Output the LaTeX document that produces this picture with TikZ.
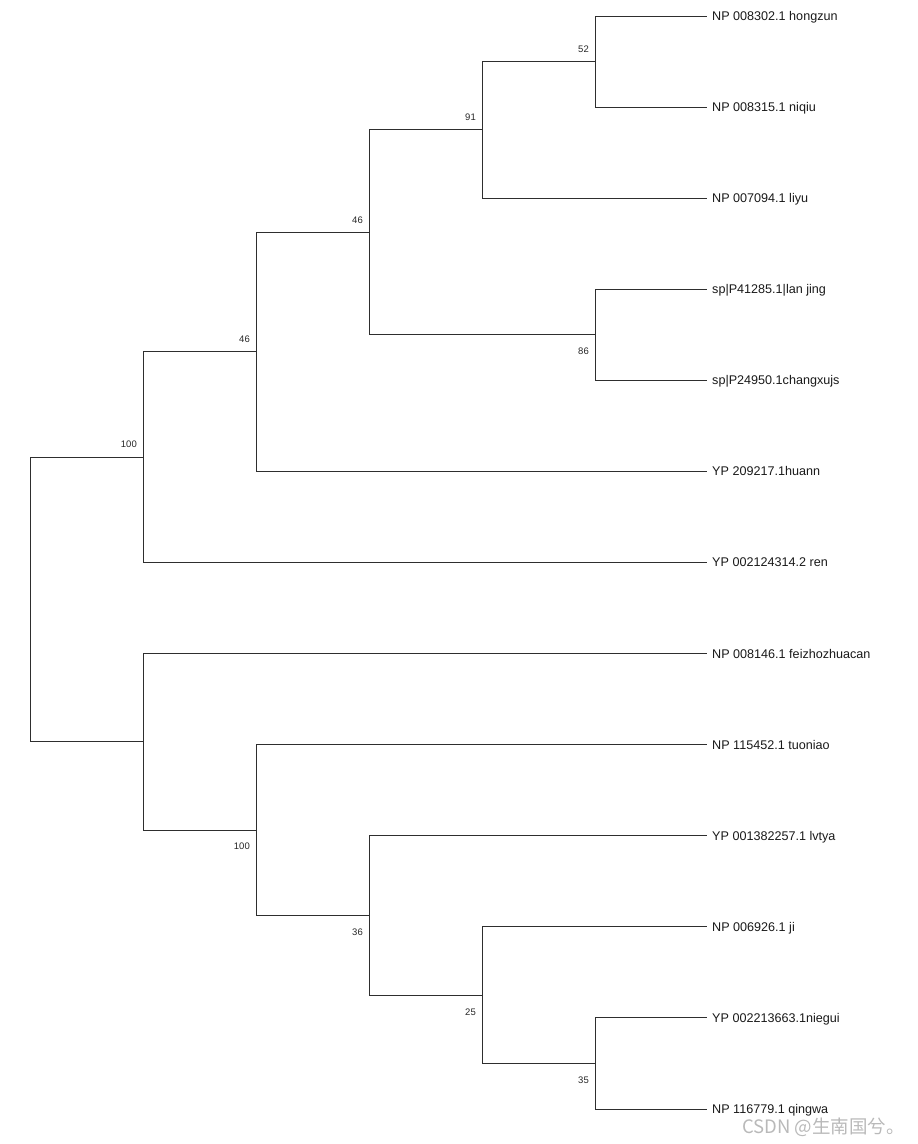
\documentclass[tikz,border=0pt]{standalone}
\usepackage{fontspec}
\setmainfont{Liberation Sans}
\newfontfamily\cjkfont{Noto Sans CJK SC}
\usetikzlibrary{calc}

\begin{document}
\begin{tikzpicture}[
    x=1pt, y=-1pt,
    branch/.style  = {line width=1pt, draw=black!82},
    leaf/.style    = {anchor=west, inner xsep=5pt, inner ysep=0pt,
                      text height=8.9pt, text depth=0pt,
                      font=\fontsize{12.6}{14}\selectfont, text=black!90},
    supup/.style   = {anchor=east, inner sep=0pt,
                      text height=6.8pt, text depth=0pt,
                      font=\fontsize{9.5}{11}\selectfont, text=black!85,
                      xshift=-6pt, yshift=12.7pt},
    supdown/.style = {supup, yshift=-29.2pt},
]

\useasboundingbox (0,0) rectangle (918,1144);

%% ---- Layout coordinates ----
\def\xRoot{30}
\def\xB{143}
\def\xC{256}
\def\xD{369}
\def\xE{482}
\def\xF{595}
\def\xTip{707}

\def\rowA{16}
\def\rowB{107}
\def\rowC{198.2}
\def\rowD{289.2}
\def\rowE{380.3}
\def\rowF{471.4}
\def\rowG{562.5}
\def\rowH{653.6}
\def\rowI{744.6}
\def\rowJ{835.7}
\def\rowK{926.8}
\def\rowL{1017.9}
\def\rowM{1109}

\pgfmathsetmacro\yFiftyTwo{0.5*(\rowA+\rowB)}
\pgfmathsetmacro\yNinetyOne{0.5*(\yFiftyTwo+\rowC)}
\pgfmathsetmacro\yEightySix{0.5*(\rowD+\rowE)}
\pgfmathsetmacro\yFortySixB{0.5*(\yNinetyOne+\yEightySix)}
\pgfmathsetmacro\yFortySixA{0.5*(\yFortySixB+\rowF)}
\pgfmathsetmacro\yHundredA{0.5*(\yFortySixA+\rowG)}
\pgfmathsetmacro\yThirtyFive{0.5*(\rowL+\rowM)}
\pgfmathsetmacro\yTwentyFive{0.5*(\rowK+\yThirtyFive)}
\pgfmathsetmacro\yThirtySix{0.5*(\rowJ+\yTwentyFive)}
\pgfmathsetmacro\yHundredB{0.5*(\rowI+\yThirtySix)}
\pgfmathsetmacro\yFeizhu{0.5*(\rowH+\yHundredB)}
\pgfmathsetmacro\yRoot{0.5*(\yHundredA+\yFeizhu)}

%% ==================================================================
%% LEAVES
%% ==================================================================
\node[leaf] (hongzun)   at (\xTip, \rowA) {NP 008302.1 hongzun};
\node[leaf] (niqiu)     at (\xTip, \rowB) {NP 008315.1 niqiu};
\node[leaf] (liyu)      at (\xTip, \rowC) {NP 007094.1 liyu};
\node[leaf] (lanjing)   at (\xTip, \rowD) {sp|P41285.1|lan jing};
\node[leaf] (changxujs) at (\xTip, \rowE) {sp|P24950.1changxujs};
\node[leaf] (huann)     at (\xTip, \rowF) {YP 209217.1huann};
\node[leaf] (ren)       at (\xTip, \rowG) {YP 002124314.2 ren};
\node[leaf] (feizhu)    at (\xTip, \rowH) {NP 008146.1 feizhozhuacan};
\node[leaf] (tuoniao)   at (\xTip, \rowI) {NP 115452.1 tuoniao};
\node[leaf] (lvtya)     at (\xTip, \rowJ) {YP 001382257.1 lvtya};
\node[leaf] (ji)        at (\xTip, \rowK) {NP 006926.1 ji};
\node[leaf] (niegui)    at (\xTip, \rowL) {YP 002213663.1niegui};
\node[leaf] (qingwa)    at (\xTip, \rowM) {NP 116779.1 qingwa};

%% ==================================================================
%% INNER NODES
%% ==================================================================
\coordinate (n52)   at (\xF, \yFiftyTwo);
\coordinate (n91)   at (\xE, \yNinetyOne);
\coordinate (n86)   at (\xF, \yEightySix);
\coordinate (n46b)  at (\xD, \yFortySixB);
\coordinate (n46a)  at (\xC, \yFortySixA);
\coordinate (n100a) at (\xB, \yHundredA);
\coordinate (n35)   at (\xF, \yThirtyFive);
\coordinate (n25)   at (\xE, \yTwentyFive);
\coordinate (n36)   at (\xD, \yThirtySix);
\coordinate (n100b) at (\xC, \yHundredB);
\coordinate (nfz)   at (\xB, \yFeizhu);
\coordinate (root)  at (\xRoot, \yRoot);

%% ==================================================================
%% BRANCHES
%% ==================================================================
%% upper clade
\draw[branch] (n52) |- (hongzun.west);
\draw[branch] (n52) |- (niqiu.west);
\draw[branch] (n91) |- (n52);
\draw[branch] (n91) |- (liyu.west);
\draw[branch] (n86) |- (lanjing.west);
\draw[branch] (n86) |- (changxujs.west);
\draw[branch] (n46b) |- (n91);
\draw[branch] (n46b) |- (n86);
\draw[branch] (n46a) |- (n46b);
\draw[branch] (n46a) |- (huann.west);
\draw[branch] (n100a) |- (n46a);
\draw[branch] (n100a) |- (ren.west);

%% lower clade
\draw[branch] (n35) |- (niegui.west);
\draw[branch] (n35) |- (qingwa.west);
\draw[branch] (n25) |- (ji.west);
\draw[branch] (n25) |- (n35);
\draw[branch] (n36) |- (lvtya.west);
\draw[branch] (n36) |- (n25);
\draw[branch] (n100b) |- (tuoniao.west);
\draw[branch] (n100b) |- (n36);
\draw[branch] (nfz) |- (feizhu.west);
\draw[branch] (nfz) |- (n100b);

%% root
\draw[branch] (root) |- (n100a);
\draw[branch] (root) |- (nfz);

%% ==================================================================
%% SUPPORT VALUES
%% ==================================================================
\node[supup]   (s52)   at (n52)   {52};
\node[supup]   (s91)   at (n91)   {91};
\node[supup]   (s46b)  at (n46b)  {46};
\node[supdown] (s86)   at (n86)   {86};
\node[supup]   (s46a)  at (n46a)  {46};
\node[supup]   (s100a) at (n100a) {100};
\node[supdown] (s100b) at (n100b) {100};
\node[supdown] (s36)   at (n36)   {36};
\node[supdown] (s25)   at (n25)   {25};
\node[supdown] (s35)   at (n35)   {35};

%% watermark
\node[anchor=east, inner sep=0pt, text=gray!55,
      font=\cjkfont\fontsize{18.5}{21}\selectfont] (mark) at (905, 1127)
    {CSDN @生南国兮。};

\end{tikzpicture}
\end{document}
